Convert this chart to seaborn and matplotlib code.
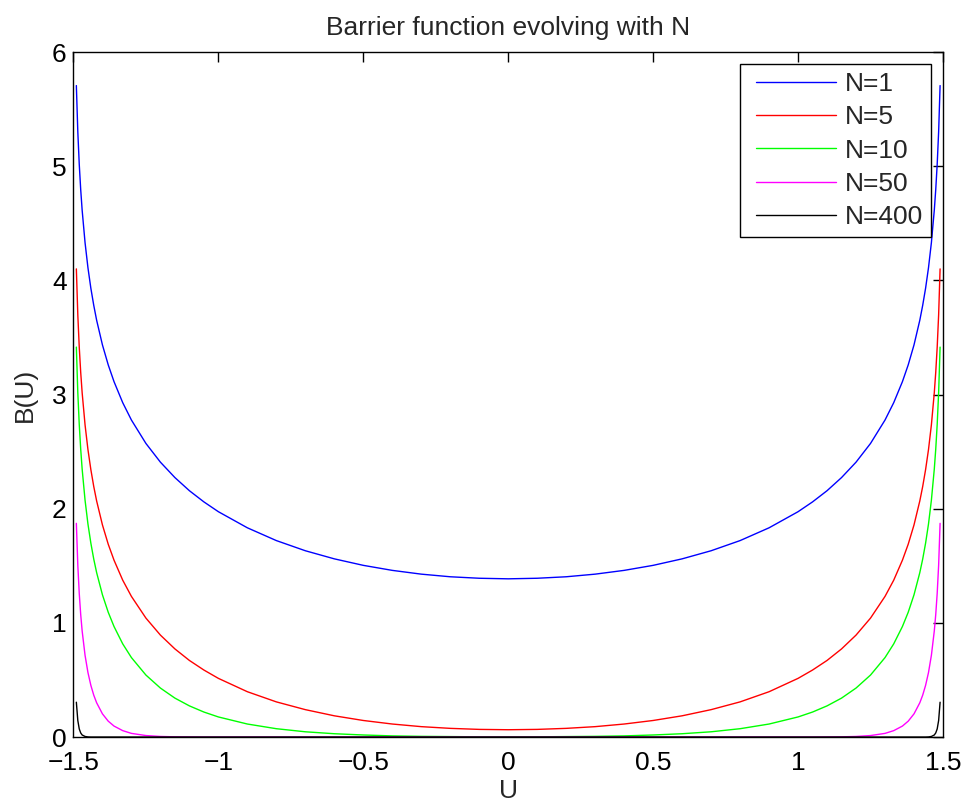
import numpy as np
import pandas as pd
import matplotlib
matplotlib.use("Agg")
import matplotlib.pyplot as plt
from matplotlib.legend_handler import HandlerLine2D
import seaborn as sns

# Sample positions along U (denser near the barriers at +/-1.5)
U = [-1.49, -1.485, -1.48, -1.475, -1.47, -1.46, -1.45, -1.44, -1.43, -1.42,
     -1.40, -1.38, -1.36, -1.33, -1.30, -1.25, -1.20, -1.15, -1.10, -1.05,
     -1.00, -0.90, -0.80, -0.70, -0.60, -0.50, -0.40, -0.30, -0.20, -0.10,
     0.00,
     0.10, 0.20, 0.30, 0.40, 0.50, 0.60, 0.70, 0.80, 0.90, 1.00,
     1.05, 1.10, 1.15, 1.20, 1.25, 1.30, 1.33, 1.36, 1.38, 1.40,
     1.42, 1.43, 1.44, 1.45, 1.46, 1.47, 1.475, 1.48, 1.485, 1.49]

B_N1 = [5.707, 5.303, 5.017, 4.796, 4.615, 4.331, 4.111, 3.932, 3.782, 3.651,
        3.435, 3.260, 3.113, 2.929, 2.777, 2.572, 2.408, 2.273, 2.158, 2.060,
        1.974, 1.833, 1.721, 1.632, 1.561, 1.504, 1.460, 1.427, 1.404, 1.391,
        1.386,
        1.391, 1.404, 1.427, 1.460, 1.504, 1.561, 1.632, 1.721, 1.833, 1.974,
        2.060, 2.158, 2.273, 2.408, 2.572, 2.777, 2.929, 3.113, 3.260, 3.435,
        3.651, 3.782, 3.932, 4.111, 4.331, 4.615, 4.796, 5.017, 5.303, 5.707]

B_N5 = [4.101, 3.699, 3.415, 3.195, 3.016, 2.735, 2.518, 2.343, 2.195, 2.068,
        1.858, 1.689, 1.549, 1.374, 1.232, 1.042, 0.893, 0.772, 0.671, 0.587,
        0.514, 0.397, 0.308, 0.240, 0.186, 0.145, 0.114, 0.091, 0.076, 0.067,
        0.064,
        0.067, 0.076, 0.091, 0.114, 0.145, 0.186, 0.240, 0.308, 0.397, 0.514,
        0.587, 0.671, 0.772, 0.893, 1.042, 1.232, 1.374, 1.549, 1.689, 1.858,
        2.068, 2.195, 2.343, 2.518, 2.735, 3.016, 3.195, 3.415, 3.699, 4.101]

B_N10 = [3.416, 3.018, 2.738, 2.522, 2.347, 2.075, 1.866, 1.699, 1.559, 1.440,
         1.246, 1.093, 0.968, 0.816, 0.696, 0.543, 0.429, 0.341, 0.273, 0.219,
         0.176, 0.114, 0.073, 0.046, 0.029, 0.018, 0.010, 0.006, 0.004, 0.002,
         0.002,
         0.002, 0.004, 0.006, 0.010, 0.018, 0.029, 0.046, 0.073, 0.114, 0.176,
         0.219, 0.273, 0.341, 0.429, 0.543, 0.696, 0.816, 0.968, 1.093, 1.246,
         1.440, 1.559, 1.699, 1.866, 2.075, 2.347, 2.522, 2.738, 3.018, 3.416]

B_N50 = [1.872, 1.506, 1.258, 1.073, 0.929, 0.716, 0.565, 0.453, 0.367, 0.300,
         0.203, 0.139, 0.096, 0.056, 0.032, 0.013, 0.005, 0.002, 0.001, 0.000,
         0.000, 0.000, 0.000, 0.000, 0.000, 0.000, 0.000, 0.000, 0.000, 0.000,
         0.000,
         0.000, 0.000, 0.000, 0.000, 0.000, 0.000, 0.000, 0.000, 0.000, 0.000,
         0.000, 0.001, 0.002, 0.005, 0.013, 0.032, 0.056, 0.096, 0.139, 0.203,
         0.300, 0.367, 0.453, 0.565, 0.716, 0.929, 1.073, 1.258, 1.506, 1.872]

B_N400 = [0.305, 0.145, 0.071, 0.036, 0.018, 0.005, 0.001, 0.000, 0.000, 0.000,
          0.000, 0.000, 0.000, 0.000, 0.000, 0.000, 0.000, 0.000, 0.000, 0.000,
          0.000, 0.000, 0.000, 0.000, 0.000, 0.000, 0.000, 0.000, 0.000, 0.000,
          0.000,
          0.000, 0.000, 0.000, 0.000, 0.000, 0.000, 0.000, 0.000, 0.000, 0.000,
          0.000, 0.000, 0.000, 0.000, 0.000, 0.000, 0.000, 0.000, 0.000, 0.000,
          0.000, 0.000, 0.000, 0.001, 0.005, 0.018, 0.036, 0.071, 0.145, 0.305]

series_labels = ["N=1", "N=5", "N=10", "N=50", "N=400"]
series_values = [B_N1, B_N5, B_N10, B_N50, B_N400]
series_colors = ["#0000ff", "#ff0000", "#00ff00", "#ff00ff", "#000000"]

frames = [pd.DataFrame({"U": U, "B": vals, "series": lab})
          for lab, vals in zip(series_labels, series_values)]
df = pd.concat(frames, ignore_index=True)

sns.set_style("white")
plt.rcParams["font.family"] = ["Liberation Sans", "DejaVu Sans"]
plt.rcParams["axes.unicode_minus"] = True

fig = plt.figure(figsize=(9.64, 8.02), dpi=100)
ax = fig.add_axes([0.0762, 0.081, 0.902, 0.854])

sns.lineplot(data=df, x="U", y="B", hue="series", hue_order=series_labels,
             palette=dict(zip(series_labels, series_colors)),
             estimator=None, sort=False, linewidth=1.0, legend=False, ax=ax)

ax.set_xlim(-1.5, 1.5)
ax.set_ylim(0, 6)
ax.set_xticks([-1.5, -1.0, -0.5, 0.0, 0.5, 1.0, 1.5])
ax.set_xticklabels(["\u22121.5", "\u22121", "\u22120.5", "0", "0.5", "1", "1.5"])
ax.set_yticks([0, 1, 2, 3, 4, 5, 6])

fs = 19
ax.tick_params(direction="in", top=True, right=True, length=7, width=1,
               labelsize=fs, color="black", labelcolor="black")
ax.tick_params(axis="x", pad=10)
ax.tick_params(axis="y", pad=5)
for sp in ax.spines.values():
    sp.set_visible(True)
    sp.set_color("black")
    sp.set_linewidth(1.0)

ax.set_xlabel("U", fontsize=fs, labelpad=3)
ax.set_ylabel("B(U)", fontsize=fs, labelpad=11)
ax.set_title("Barrier function evolving with N", fontsize=fs, pad=12)

handles = ax.get_lines()[:len(series_labels)]
leg = ax.legend(handles, series_labels, loc="upper right", fontsize=fs,
                frameon=True, fancybox=False, framealpha=1, edgecolor="black",
                handlelength=3.33, handletextpad=0.34, labelspacing=0.35,
                borderpad=0.3, borderaxespad=0.46,
                handler_map={h: HandlerLine2D(xpad=0.3) for h in handles})
leg.get_frame().set_linewidth(1.0)

fig.savefig("out.png", dpi=100)
